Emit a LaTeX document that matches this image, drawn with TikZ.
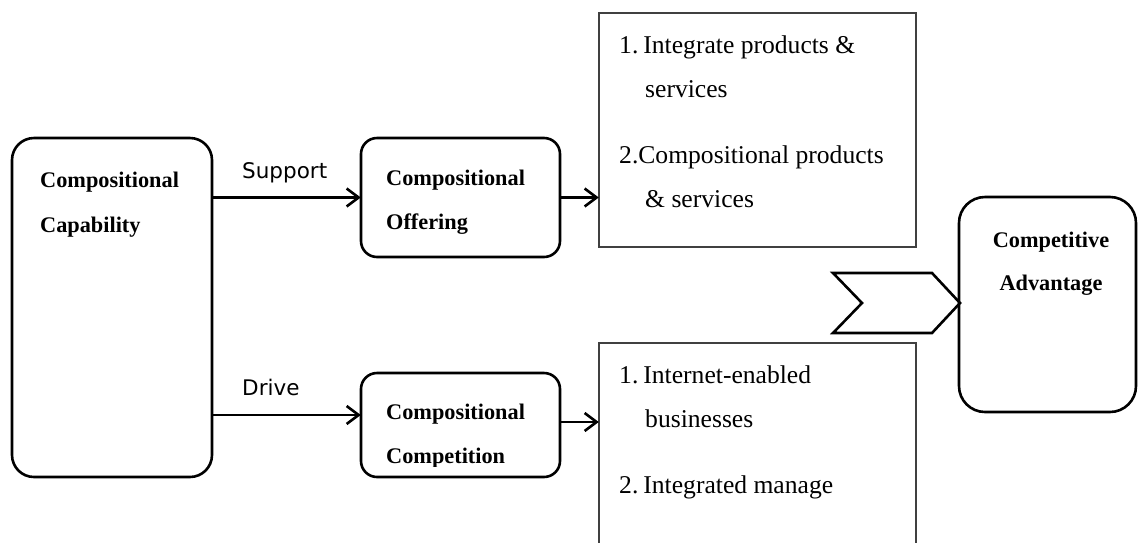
\documentclass[tikz,border=0pt]{standalone}
\usepackage{fontspec}
\setmainfont{Liberation Serif}
\newfontfamily\lblfont{DejaVu Sans}
\usetikzlibrary{arrows.meta}
\tikzset{
  rbox/.style={draw, line width=2.6pt, rounded corners=#1, inner sep=0pt},
  lbox/.style={draw=black!75, line width=1.2pt, inner sep=0pt},
  bold/.style={anchor=base west, inner sep=0pt, font=\fontsize{22.3}{24}\selectfont\bfseries},
  item/.style={anchor=base west, inner sep=0pt, font=\fontsize{25.6}{28}\selectfont},
  lbl/.style={anchor=base west, inner sep=0pt, font=\fontsize{21.5}{24}\selectfont\lblfont},
  conn/.style={line width=2.6pt, -{Straight Barb[length=12pt,width=18pt,line width=2.6pt]}},
}
\begin{document}
\begin{tikzpicture}[x=1pt,y=-1pt]
\clip (0,0) rectangle (1138,542);
\fill[white] (0,0) rectangle (1138,542);
% boxes
\draw[rbox=22pt] (12,138) rectangle (212,477);
\node[minimum width=200pt, minimum height=339pt] (cap) at (112,307.5) {};
\draw[rbox=16pt] (361,138) rectangle (560,257);
\node[minimum width=199pt, minimum height=119pt] (off) at (460.5,197.5) {};
\draw[rbox=16pt] (361,373) rectangle (560,477);
\node[minimum width=199pt, minimum height=104pt] (comp) at (460.5,425) {};
\draw[lbox] (599,13) rectangle (916,247);
\node[minimum width=317pt, minimum height=234pt] (lista) at (757.5,130) {};
\draw[lbox] (599,343) rectangle (916,600);
\node[minimum width=317pt, minimum height=257pt] (listb) at (757.5,471.5) {};
\draw[rbox=26pt] (959,197) rectangle (1136,412);
\node[minimum width=177pt, minimum height=215pt] (adv) at (1047.5,304.5) {};
% chevron
\draw[line width=2.6pt, line join=miter] (833,273) -- (862,303) -- (833,333) -- (932,333) -- (960,303) -- (932,273) -- cycle;
% texts
\node[bold] (t1) at (40,187) {Compositional};
\node[bold] (t2) at (40,232) {Capability};
\node[bold] (t3) at (386,185) {Compositional};
\node[bold] (t4) at (386,229) {Offering};
\node[bold] (t5) at (386,419) {Compositional};
\begin{scope}
\clip (361,373) rectangle (560,466);
\node[bold] (t6) at (386,463) {Competition};
\end{scope}
\node[bold, anchor=base] (t7) at (1051,247) {Competitive};
\node[bold, anchor=base] (t8) at (1051,290) {Advantage};
\node[item] (a1) at (619,53) {1.\kern5pt Integrate products \&};
\node[item] (a2) at (645,97) {services};
\node[item] (a3) at (619,163) {2.Compositional products};
\node[item] (a4) at (645,207) {\& services};
\node[item] (b1) at (619,383) {1.\kern5pt Internet-enabled};
\node[item] (b2) at (645,427) {businesses};
\node[item] (b3) at (619,493) {2.\kern5pt Integrated manage};
\node[lbl] (s1) at (242,178) {Support};
\node[lbl] (s2) at (242,395) {Drive};
% connectors
\draw[conn] (cap.east |- off.west) -- (off.west);
\draw[conn] ([yshift=10pt]comp.west -| cap.east) -- ([yshift=10pt]comp.west);
\draw[conn] (off.east) -- (off.east -| lista.west);
\draw[conn] ([yshift=3pt]comp.east) -- ([yshift=3pt]comp.east -| listb.west);
\end{tikzpicture}
\end{document}
